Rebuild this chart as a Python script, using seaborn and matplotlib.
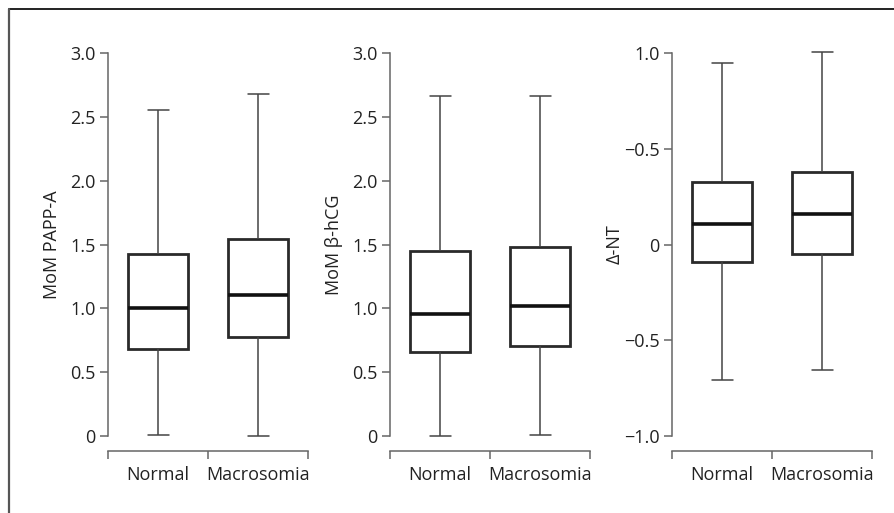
import matplotlib
matplotlib.use("Agg")
import matplotlib.pyplot as plt
from matplotlib.lines import Line2D
import pandas as pd
import seaborn as sns

# groups on the x axis
groups = ["Normal", "Macrosomia"]

# five-number summaries: min, Q1, median, Q3, max
pappa_normal = [0.01, 0.68, 1.005, 1.428, 2.55]
pappa_macro = [0.003, 0.773, 1.104, 1.545, 2.676]

hcg_normal = [0.0, 0.658, 0.958, 1.451, 2.665]
hcg_macro = [0.005, 0.707, 1.018, 1.48, 2.665]

nt_normal = [-0.708, -0.089, 0.106, 0.324, 0.947]
nt_macro = [-0.656, -0.049, 0.160, 0.381, 1.003]

# axis labels and ticks
ylabels = ["MoM PAPP-A", "MoM β-hCG", "Δ-NT"]
ticks_mom = [0, 0.5, 1.0, 1.5, 2.0, 2.5, 3.0]
ticklabels_mom = ["0", "0.5", "1.0", "1.5", "2.0", "2.5", "3.0"]
ticks_nt = [-1.0, -0.5, 0, 0.5, 1.0]
ticklabels_nt = ["\u22121.0", "\u22120.5", "0", "\u22120.5", "1.0"]

panels = [
    (pappa_normal, pappa_macro, ticks_mom, ticklabels_mom),
    (hcg_normal, hcg_macro, ticks_mom, ticklabels_mom),
    (nt_normal, nt_macro, ticks_nt, ticklabels_nt),
]

sns.set_style("ticks")
plt.rcParams["font.family"] = ["Open Sans", "DejaVu Sans"]
plt.rcParams["font.size"] = 13
plt.rcParams["text.color"] = "#222222"
plt.rcParams["axes.labelcolor"] = "#222222"
plt.rcParams["xtick.color"] = "#666666"
plt.rcParams["ytick.color"] = "#666666"
plt.rcParams["xtick.labelcolor"] = "#222222"
plt.rcParams["ytick.labelcolor"] = "#222222"

fig = plt.figure(figsize=(8.94, 5.13), dpi=100)

lefts = [108 / 894, 390 / 894, 672 / 894]
label_pads = [6.5, 6.5, 0.5]
for i, (a, b, ticks, tlabels) in enumerate(panels):
    ax = fig.add_axes([lefts[i], 77 / 513, 200 / 894, 383 / 513])
    df = pd.DataFrame({
        "group": [groups[0]] * len(a) + [groups[1]] * len(b),
        "value": a + b,
    })
    sns.boxplot(
        data=df, x="group", y="value", ax=ax, order=groups,
        whis=(0, 100), width=0.6, color="white", fill=True,
        linecolor="#2a2a2a", linewidth=2,
        boxprops=dict(edgecolor="#2a2a2a", linewidth=2),
        whiskerprops=dict(color="#444444", linewidth=1.1),
        capprops=dict(color="#444444", linewidth=1.1),
        medianprops=dict(color="#111111", linewidth=2.6),
        capwidths=0.21,
    )
    for art in ax.get_children():
        try:
            art.set_clip_on(False)
        except Exception:
            pass

    ax.set_xlim(-0.5, 1.5)
    ax.set_ylim(ticks[0], ticks[-1])
    ax.set_yticks(ticks)
    ax.set_yticklabels(tlabels)
    ax.set_xticks([0, 1])
    ax.set_xticklabels(groups)
    ax.set_xticks([-0.5, 0.5, 1.5], minor=True)
    ax.tick_params(axis="x", which="major", length=0, pad=11)
    ax.tick_params(axis="x", which="minor", length=5.5, width=1.1,
                   direction="out", color="#666666")
    ax.tick_params(axis="y", length=5.8, width=1.1, pad=3, labelsize=13)
    ax.tick_params(axis="x", labelsize=13)
    ax.set_xlabel("")
    ax.set_ylabel(ylabels[i], fontsize=13, labelpad=label_pads[i])

    ax.spines["top"].set_visible(False)
    ax.spines["right"].set_visible(False)
    ax.spines["bottom"].set_position(("outward", 10.5))
    for s in ["left", "bottom"]:
        ax.spines[s].set_color("#666666")
        ax.spines[s].set_linewidth(1.1)

# frame lines around the figure (top and left)
fig.add_artist(Line2D([8.5 / 894, 1.0], [1 - 9 / 513, 1 - 9 / 513],
                      transform=fig.transFigure, color="#222222", lw=1.4))
fig.add_artist(Line2D([8.5 / 894, 8.5 / 894], [0, 1 - 9 / 513],
                      transform=fig.transFigure, color="#555555", lw=1.6))

fig.savefig("out.png", dpi=100, facecolor="white")
